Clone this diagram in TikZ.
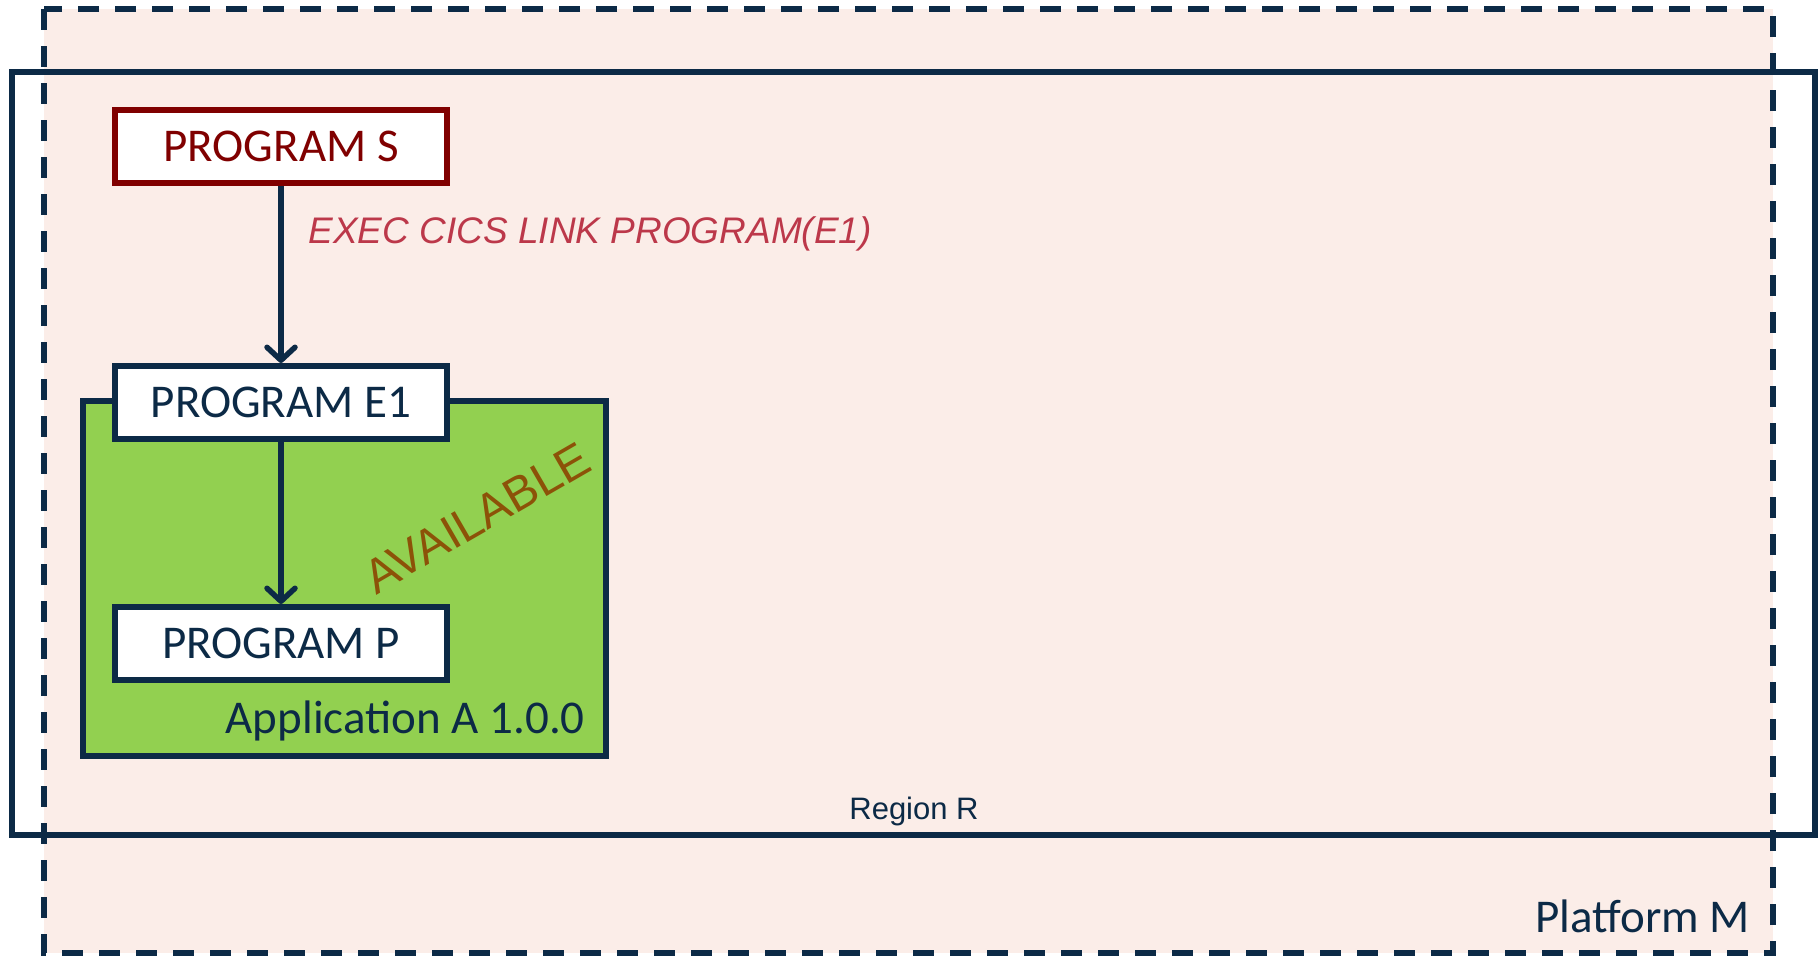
\documentclass[tikz,border=0pt]{standalone}
\usepackage{fontspec}
\setmainfont{Carlito}
\newfontfamily\arialfont{Liberation Sans}
\usepackage{xcolor}
\usepackage{tikz}
\usetikzlibrary{arrows.meta}
\definecolor{navy}{RGB}{12,42,70}
\definecolor{blush}{RGB}{251,237,232}
\definecolor{appgreen}{RGB}{146,208,80}
\definecolor{darkred}{RGB}{128,0,0}
\definecolor{linkred}{RGB}{188,56,74}
\definecolor{availbrown}{RGB}{140,82,8}
\newcommand{\boxfont}{\fontsize{47}{56}\selectfont}

\tikzset{
    progbox/.style = {draw = navy, fill = white, line width = 6pt, inner sep = 0pt,
        minimum width = 332pt, minimum height = 73pt, text = navy, font = \boxfont},
    callarrow/.style = {draw = navy, line width = 5.5pt,
        -{Straight Barb[length = 13pt, width = 28pt, round]}}
}

\begin{document}
\begin{tikzpicture}[x = 1pt, y = -1pt]
        \useasboundingbox (0, 0) rectangle (1818, 956);

        \fill[blush] (44, 9) rectangle (1773, 953);
        \draw[navy, line width = 6pt] (12, 72) rectangle (1815, 835);
        \draw[navy, line width = 6pt, dash pattern = on 21pt off 16pt] (44, 9) rectangle (1773, 953);
        \filldraw[draw = navy, fill = appgreen, line width = 6pt] (83, 401) rectangle (606, 756);

        \node[progbox, draw = darkred, text = darkred] (progS) at (281, 146.5) {PROGRAM S};
        \node[progbox] (progE) at (281, 402.5) {PROGRAM E1};
        \node[progbox] (progP) at (281, 643.5) {PROGRAM P};

        \draw[callarrow] (progS) -- (progE);
        \draw[callarrow] (progE) -- (progP);

        \node[anchor = base west, text = linkred, font = \arialfont\itshape\fontsize{37}{44}\selectfont]
            (linkcmd) at (305, 243) {EXEC CICS LINK PROGRAM(E1)};
        \node[text = availbrown, rotate = 30, inner sep = 0pt, font = \arialfont\fontsize{48}{56}\selectfont]
            (avail) at (477, 518) {AVAILABLE};
        \node[anchor = base east, inner sep = 0pt, text = navy, font = \boxfont]
            (appname) at (585, 733) {Application A 1.0.0};
        \node[anchor = base, inner sep = 0pt, text = navy, font = \arialfont\fontsize{31}{37}\selectfont]
            (region) at (914, 819) {Region R};
        \node[anchor = base east, inner sep = 0pt, text = navy, font = \boxfont]
            (platform) at (1750, 932) {Platform M};
    \end{tikzpicture}
\end{document}
